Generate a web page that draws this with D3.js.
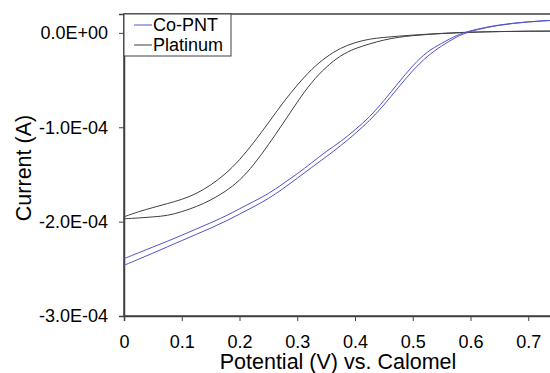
<!DOCTYPE html>
<html>
<head>
<meta charset="utf-8">
<script src="https://cdn.jsdelivr.net/npm/d3@7"></script>
<style>
  body { margin: 0; background: #fff; }
  svg text { font-family: "Liberation Sans", Arial, sans-serif; fill: #000; }
</style>
</head>
<body>
<div id="chart"></div>
<script>
// potential (V) vs. calomel, shared by all sweeps
const potential = [0, 0.025, 0.05, 0.075, 0.1, 0.125, 0.15, 0.175, 0.2, 0.225, 0.25, 0.275, 0.3,
  0.325, 0.35, 0.375, 0.4, 0.425, 0.45, 0.475, 0.5, 0.525, 0.55, 0.575, 0.6, 0.65, 0.7, 0.75, 0.8];

// currents in microamps, two branches per electrode
const coPntUpper = [-239.2, -233.1, -226.9, -220.9, -214.5, -207.8, -201.3, -194.5, -186.4, -178.5, -170.6, -160.0, -149.4,
  -137.7, -125.5, -115.5, -102.8, -89.5, -72.0, -53.0, -34.4, -19.6, -11.1, -2.6, 2.6, 8.9, 11.9, 13.8, 14.5];
const coPntLower = [-246.3, -239.9, -233.4, -226.7, -220.1, -213.6, -206.9, -200.0, -192.1, -184.1, -175.8, -165.3, -154.1,
  -142.5, -131.4, -119.7, -107.0, -93.2, -76.8, -57.7, -39.7, -24.4, -13.8, -4.2, 2.1, 8.5, 11.7, 13.7, 14.4];
const platinumUpper = [-194.9, -189.4, -185.1, -180.9, -176.7, -170.6, -161.5, -150.0, -135.0, -116.0, -95.5, -74.0, -55.1,
  -38.2, -25.4, -15.9, -10.1, -6.4, -4.8, -3.5, -2.3, -1.4, -0.5, 0.2, 0.8, 1.5, 1.8, 1.9, 2.0];
const platinumLower = [-197.0, -196.2, -195.0, -193.8, -189.6, -184.3, -177.4, -168.4, -156.8, -139.8, -118.6, -96.4, -73.1,
  -51.9, -36.0, -23.8, -16.4, -11.7, -7.4, -4.6, -2.9, -1.7, -0.7, 0.0, 0.6, 1.4, 1.8, 1.9, 2.0];

const seriesNames = ['Co-PNT', 'Platinum'];
const seriesColors = ['#5252c8', '#404040'];
const xTicks = [0, 0.1, 0.2, 0.3, 0.4, 0.5, 0.6, 0.7];
const yTicks = [-300, -200, -100, 0];

const width = 550, height = 373;
const margin = { top: 14, left: 124, bottom: 57 };
const plotW = 462; // plot runs past the right edge of the picture
const plotH = height - margin.top - margin.bottom;

const x = d3.scaleLinear().domain([0, 0.8]).range([margin.left, margin.left + plotW]);
const y = d3.scaleLinear().domain([-300, 20]).range([margin.top + plotH, margin.top]);

// Excel style 0.0E+00 labels (values come in microamps)
function sci(v) {
  const a = v * 1e-6;
  if (a === 0) return '0.0E+00';
  let e = Math.floor(Math.log10(Math.abs(a)) + 1e-9);
  const m = a / Math.pow(10, e);
  const sign = e < 0 ? '-' : '+';
  return m.toFixed(1) + 'E' + sign + String(Math.abs(e)).padStart(2, '0');
}

const svg = d3.select('#chart').append('svg')
  .attr('width', width)
  .attr('height', height);

// plot border
svg.append('rect')
  .attr('x', margin.left)
  .attr('y', margin.top)
  .attr('width', plotW)
  .attr('height', plotH)
  .attr('fill', 'none')
  .attr('stroke', '#404040')
  .attr('stroke-width', 1.5);

const yAxis = svg.append('g')
  .attr('transform', `translate(${margin.left},0)`)
  .call(d3.axisLeft(y).tickValues(yTicks).tickSize(5).tickPadding(11).tickFormat(sci));
yAxis.select('.domain').attr('stroke', '#404040').attr('stroke-width', 1.5);
yAxis.selectAll('.tick line').attr('stroke', '#404040');
yAxis.selectAll('text').style('font-size', '18px').attr('fill', '#000');

const xAxis = svg.append('g')
  .attr('transform', `translate(0,${margin.top + plotH})`)
  .call(d3.axisBottom(x).tickValues(xTicks).tickSize(5).tickPadding(14).tickFormat(d => d === 0 ? '0' : d3.format('.1f')(d)));
xAxis.select('.domain').attr('stroke', '#404040').attr('stroke-width', 1.5);
xAxis.selectAll('.tick line').attr('stroke', '#404040');
xAxis.selectAll('text').style('font-size', '18px').attr('fill', '#000');

const line = d3.line()
  .x(d => x(d[0]))
  .y(d => y(d[1]))
  .curve(d3.curveBasis);

const branches = [
  { s: 1, values: platinumUpper },
  { s: 1, values: platinumLower },
  { s: 0, values: coPntUpper },
  { s: 0, values: coPntLower }
];

svg.append('g').selectAll('path')
  .data(branches)
  .join('path')
  .attr('d', b => line(potential.map((p, i) => [p, b.values[i]])))
  .attr('fill', 'none')
  .attr('stroke', b => seriesColors[b.s])
  .attr('stroke-width', 1);

// axis titles
svg.append('text')
  .attr('x', margin.left + 214)
  .attr('y', 369)
  .attr('text-anchor', 'middle')
  .style('font-size', '21.5px')
  .text('Potential (V) vs. Calomel');

svg.append('text')
  .attr('transform', `translate(31,${margin.top + plotH / 2 + 3}) rotate(-90)`)
  .attr('text-anchor', 'middle')
  .style('font-size', '21.5px')
  .text('Current (A)');

// legend
const legend = svg.append('g');
legend.append('rect')
  .attr('x', margin.left)
  .attr('y', margin.top)
  .attr('width', 107)
  .attr('height', 42)
  .attr('fill', '#fff')
  .attr('stroke', '#404040')
  .attr('stroke-width', 1);

const item = legend.selectAll('g.item')
  .data(seriesNames)
  .join('g')
  .attr('class', 'item')
  .attr('transform', (d, i) => `translate(${margin.left + 10},${margin.top + 11 + i * 20})`);

item.append('line')
  .attr('x1', 0).attr('x2', 18)
  .attr('stroke', (d, i) => seriesColors[i])
  .attr('stroke-width', 1);

item.append('text')
  .attr('x', 19)
  .attr('dy', '0.35em')
  .style('font-size', '18px')
  .text(d => d);
</script>
</body>
</html>
